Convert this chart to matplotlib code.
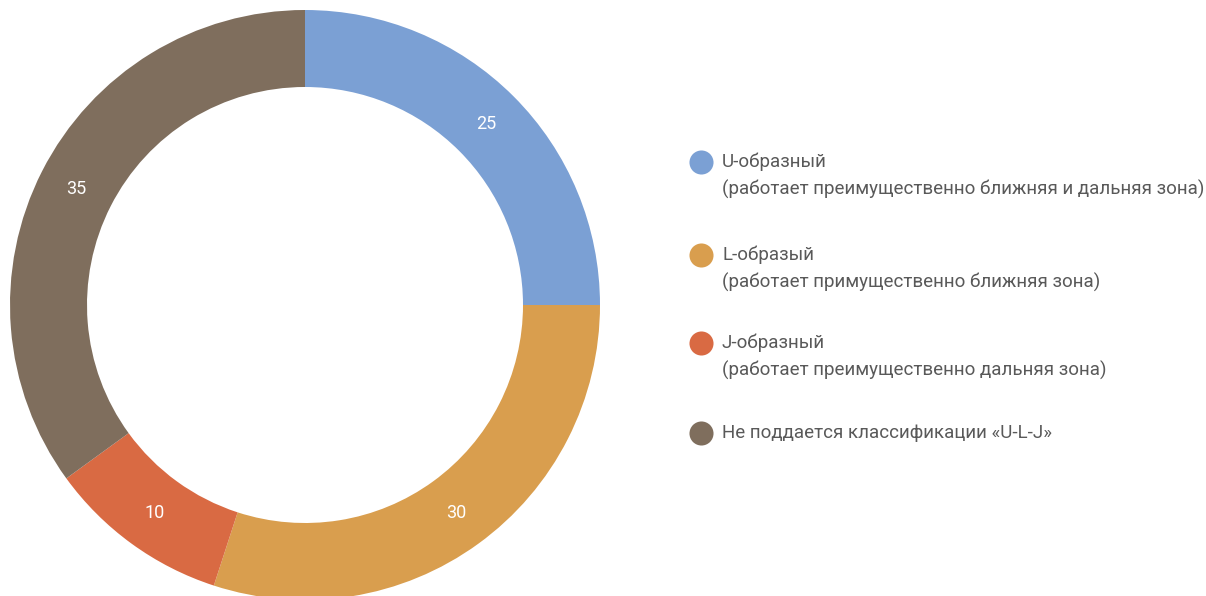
import numpy as np
import matplotlib.pyplot as plt

plt.rcParams['font.family'] = ['Roboto', 'DejaVu Sans']

# доли типов кривых
values = [25, 30, 10, 35]
colors = ['#7BA0D4', '#D99E4E', '#D96A43', '#7F6E5D']
titles = ['U-образный', 'L-образый', 'J-образный', 'Не поддается классификации «U-L-J»']
notes = ['(работает преимущественно ближняя и дальняя зона)',
         '(работает примущественно ближняя зона)',
         '(работает преимущественно дальняя зона)',
         None]

W, H = 1206, 596
fig = plt.figure(figsize=(W / 100, H / 100), dpi=100)
ax = fig.add_axes([0, 0, 1, 1])

cx, cy, r_out, r_in = 305, H - 305, 295, 218
wedges, _ = ax.pie(values, colors=colors, startangle=90, counterclock=False,
                   center=(cx, cy), radius=r_out, frame=True,
                   wedgeprops=dict(width=r_out - r_in, linewidth=0))
ax.set_xlim(0, W)
ax.set_ylim(0, H)
ax.set_aspect('equal')
ax.axis('off')

r_mid = (r_out + r_in) / 2
for w, v in zip(wedges, values):
    ang = np.deg2rad((w.theta1 + w.theta2) / 2)
    ax.text(cx + r_mid * np.cos(ang), cy + r_mid * np.sin(ang), str(v),
            color='white', fontsize=13, ha='center', va='center')

# легенда справа
leg_y = [H - 162, H - 255, H - 343, H - 433]
for y, c, t, n in zip(leg_y, colors, titles, notes):
    ax.scatter([701], [y], s=300, color=c, linewidths=0)
    ax.text(722, y, t, color='#595959', fontsize=13.5, va='center', ha='left')
    if n:
        ax.text(722, y - 27, n, color='#595959', fontsize=13.5, va='center', ha='left')

fig.savefig('out.png', dpi=100)
